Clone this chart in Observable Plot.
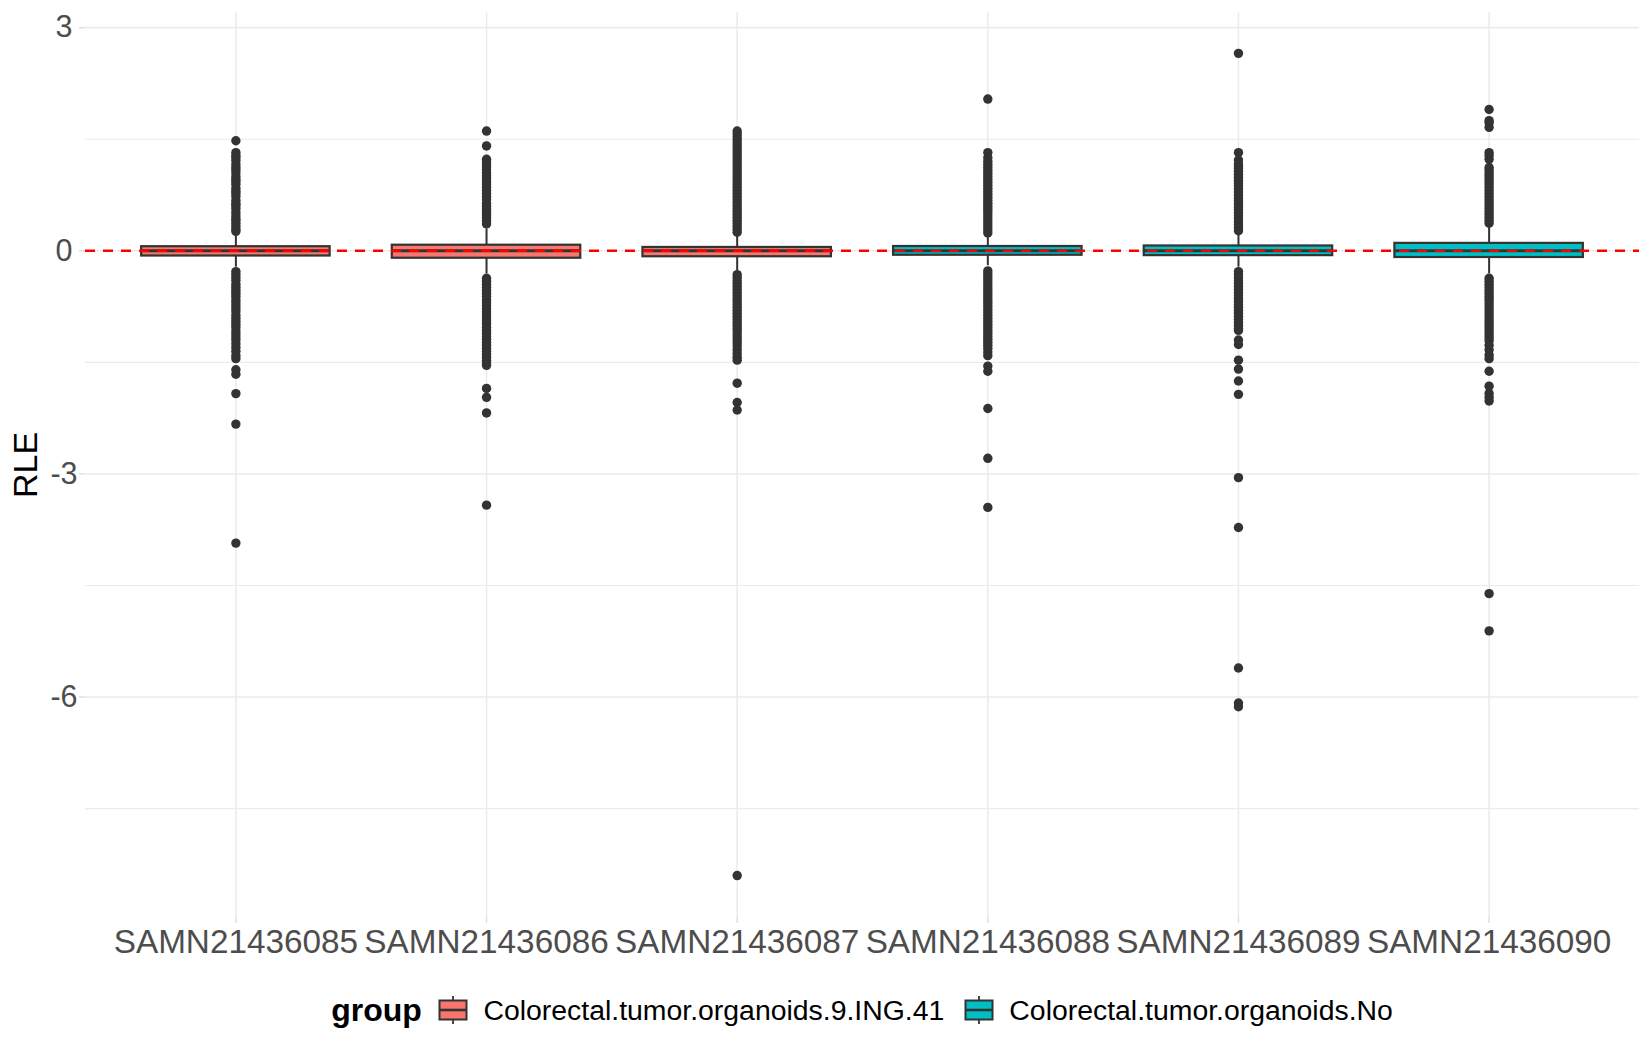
<!DOCTYPE html>
<html>
<head>
<meta charset="utf-8">
<script src="https://cdn.jsdelivr.net/npm/d3@7"></script>
<script src="https://cdn.jsdelivr.net/npm/@observablehq/plot@0.6"></script>
<style>
  html, body { margin: 0; padding: 0; background: #ffffff; }
  #chart { width: 1650px; }
  #legend {
    display: flex; align-items: center; justify-content: center;
    height: 40px; margin-top: 15px; padding-left: 74px;
    font-family: "Liberation Sans", Arial, Helvetica, sans-serif; color: #000;
  }
  #legend .title { font-weight: bold; font-size: 32px; margin-right: 16px; }
  #legend .lab { font-size: 28.4px; margin-left: 15.7px; margin-right: 19.4px; white-space: nowrap; }
  #legend svg { display: block; }
</style>
</head>
<body>
<div id="chart"></div>
<div id="legend"></div>
<script>
// ---------- data ----------
const samples = ["SAMN21436085", "SAMN21436086", "SAMN21436087", "SAMN21436088", "SAMN21436089", "SAMN21436090"];
const groupNames = ["Colorectal.tumor.organoids.9.ING.41", "Colorectal.tumor.organoids.No"];
const sampleGroup = [groupNames[0], groupNames[0], groupNames[0], groupNames[1], groupNames[1], groupNames[1]];
const groupColors = ["#F8766D", "#00BFC4"];

const q1 = [-0.07, -0.10, -0.08, -0.06, -0.065, -0.09];
const median = [0, 0, 0, 0, 0, 0];
const q3 = [0.055, 0.075, 0.045, 0.058, 0.065, 0.10];
const whiskerLow = [-0.22, -0.31, -0.27, -0.20, -0.22, -0.31];
const whiskerHigh = [0.20, 0.29, 0.22, 0.19, 0.22, 0.31];

const out085 = [0.26,0.29,0.33,0.37,0.41,0.44,0.48,0.52,0.57,0.61,0.64,0.68,0.73,0.77,0.8,0.84,0.89,0.93,0.96,1.0,1.05,1.09,1.12,1.16,1.21,1.25,1.28,1.32,1.48,
  -0.28,-0.32,-0.36,-0.4,-0.45,-0.49,-0.53,-0.57,-0.61,-0.66,-0.7,-0.74,-0.78,-0.82,-0.87,-0.91,-0.95,-0.99,-1.03,-1.08,-1.12,-1.16,-1.2,-1.25,-1.3,-1.35,-1.41,-1.45,-1.6,-1.66,-1.92,-2.33,-3.93];
const out086 = [0.36,0.4,0.44,0.48,0.52,0.56,0.6,0.64,0.69,0.73,0.77,0.81,0.85,0.89,0.93,0.97,1.01,1.05,1.09,1.13,1.17,1.2,1.23,1.41,1.61,
  -0.37,-0.41,-0.45,-0.49,-0.53,-0.57,-0.61,-0.66,-0.7,-0.74,-0.78,-0.82,-0.86,-0.9,-0.94,-0.98,-1.03,-1.07,-1.11,-1.15,-1.19,-1.23,-1.27,-1.31,-1.35,-1.39,-1.43,-1.47,-1.51,-1.54,-1.85,-1.97,-2.18,-3.42];
const out087 = [0.25,0.29,0.33,0.37,0.41,0.45,0.49,0.53,0.57,0.61,0.65,0.69,0.73,0.77,0.81,0.85,0.89,0.93,0.97,1.01,1.05,1.09,1.13,1.17,1.21,1.25,1.29,1.33,1.37,1.41,1.45,1.49,1.53,1.57,1.61,
  -0.32,-0.36,-0.4,-0.44,-0.48,-0.52,-0.56,-0.6,-0.64,-0.68,-0.72,-0.76,-0.8,-0.84,-0.88,-0.92,-0.96,-1.0,-1.04,-1.08,-1.12,-1.16,-1.2,-1.24,-1.28,-1.33,-1.38,-1.43,-1.47,-1.78,-2.04,-2.14,-8.4];
const out088 = [0.24,0.28,0.32,0.36,0.4,0.44,0.48,0.52,0.56,0.6,0.64,0.68,0.72,0.76,0.8,0.84,0.88,0.92,0.96,1.0,1.04,1.08,1.12,1.16,1.2,1.25,1.32,2.04,
  -0.27,-0.31,-0.35,-0.39,-0.43,-0.47,-0.51,-0.55,-0.59,-0.63,-0.67,-0.71,-0.75,-0.79,-0.83,-0.87,-0.91,-0.95,-0.99,-1.03,-1.07,-1.11,-1.15,-1.19,-1.23,-1.27,-1.31,-1.36,-1.41,-1.55,-1.62,-2.12,-2.79,-3.45];
const out089 = [0.27,0.31,0.35,0.39,0.43,0.47,0.51,0.55,0.59,0.63,0.67,0.71,0.75,0.79,0.83,0.87,0.91,0.95,0.99,1.03,1.07,1.11,1.14,1.17,1.22,1.32,2.655,
  -0.28,-0.32,-0.36,-0.4,-0.44,-0.48,-0.52,-0.56,-0.6,-0.64,-0.68,-0.72,-0.76,-0.8,-0.84,-0.88,-0.92,-0.96,-1.0,-1.04,-1.07,-1.2,-1.26,-1.47,-1.59,-1.75,-1.93,-3.05,-3.72,-5.61,-6.08,-6.13];
const out090 = [0.37,0.41,0.45,0.49,0.53,0.57,0.61,0.65,0.69,0.73,0.77,0.81,0.85,0.89,0.93,0.97,1.01,1.05,1.09,1.12,1.23,1.28,1.32,1.66,1.72,1.75,1.9,
  -0.37,-0.41,-0.45,-0.49,-0.53,-0.57,-0.61,-0.65,-0.69,-0.73,-0.77,-0.81,-0.85,-0.89,-0.93,-0.97,-1.01,-1.05,-1.09,-1.13,-1.17,-1.21,-1.27,-1.33,-1.4,-1.45,-1.62,-1.82,-1.92,-1.97,-2.02,-4.61,-5.11];
const outliers = [out085, out086, out087, out088, out089, out090];

const yTicksMajor = [3, 0, -3, -6];
const yTicksMinor = [1.5, -1.5, -4.5, -7.5];
const yLabel = "RLE";
const legendTitle = "group";

// ---------- tables ----------
const boxes = samples.map((s, i) => ({sample: s, group: sampleGroup[i], q1: q1[i], med: median[i], q3: q3[i], lo: whiskerLow[i], hi: whiskerHigh[i]}));
const points = samples.flatMap((s, i) => outliers[i].map(v => ({sample: s, value: v})));

const FONT = '"Liberation Sans", Arial, Helvetica, sans-serif';
const DARK = "#333333";
const GRID = "#ebebeb";

const chart = Plot.plot({
  width: 1650,
  height: 975,
  marginTop: 12,
  marginBottom: 58,
  marginLeft: 85,
  marginRight: 11,
  style: {fontFamily: FONT, background: "#ffffff", color: "#4d4d4d"},
  x: {type: "band", domain: samples, paddingInner: 0.248, paddingOuter: 0.224, round: false},
  y: {domain: [-8.964, 3.204]},
  color: {domain: groupNames, range: groupColors},
  marks: [
    Plot.ruleY(yTicksMinor, {stroke: GRID, strokeWidth: 1.1}),
    Plot.ruleY(yTicksMajor, {stroke: GRID, strokeWidth: 1.6}),
    Plot.ruleX(samples, {x: d => d, stroke: GRID, strokeWidth: 1.5}),
    Plot.axisY(yTicksMajor, {tickSize: 6, tickPadding: 15.5, textAnchor: "middle", tickFormat: d => String(d), stroke: "#dddddd", strokeWidth: 1.4, fill: "#4d4d4d", fontSize: 30.5, label: null}),
    Plot.axisX({tickSize: 6, tickPadding: 6, stroke: "#dddddd", strokeWidth: 1.4, fill: "#4d4d4d", fontSize: 33.3, label: null}),
    Plot.text([yLabel], {text: d => d, frameAnchor: "left", textAnchor: "middle", lineAnchor: "middle", dx: -59.7, rotate: -90, fontSize: 34, fill: "#000000"}),
    Plot.ruleX(boxes, {x: "sample", y1: "lo", y2: "hi", stroke: DARK, strokeWidth: 2}),
    Plot.barY(boxes, {x: "sample", y1: "q1", y2: "q3", fill: "group", stroke: DARK, strokeWidth: 2.2}),
    Plot.tickY(boxes, {x: "sample", y: "med", stroke: DARK, strokeWidth: 3}),
    Plot.dot(points, {x: "sample", y: "value", r: 4.7, fill: DARK, stroke: "none"}),
    Plot.ruleY([0], {stroke: "#ff0000", strokeWidth: 2.5, strokeDasharray: "10,8"})
  ]
});
document.getElementById("chart").appendChild(chart);

// ---------- legend ----------
const legend = document.getElementById("legend");
const t = document.createElement("span");
t.className = "title";
t.textContent = legendTitle;
legend.appendChild(t);
const ns = "http://www.w3.org/2000/svg";
groupNames.forEach((g, i) => {
  const svg = document.createElementNS(ns, "svg");
  svg.setAttribute("width", "30");
  svg.setAttribute("height", "30");
  const w = document.createElementNS(ns, "line");
  w.setAttribute("x1", "15"); w.setAttribute("x2", "15");
  w.setAttribute("y1", "1"); w.setAttribute("y2", "29");
  w.setAttribute("stroke", DARK); w.setAttribute("stroke-width", "1.8");
  svg.appendChild(w);
  const r = document.createElementNS(ns, "rect");
  r.setAttribute("x", "1.5"); r.setAttribute("y", "5.5");
  r.setAttribute("width", "27"); r.setAttribute("height", "19");
  r.setAttribute("fill", groupColors[i]);
  r.setAttribute("stroke", DARK); r.setAttribute("stroke-width", "2");
  svg.appendChild(r);
  const m = document.createElementNS(ns, "line");
  m.setAttribute("x1", "1.5"); m.setAttribute("x2", "28.5");
  m.setAttribute("y1", "15"); m.setAttribute("y2", "15");
  m.setAttribute("stroke", DARK); m.setAttribute("stroke-width", "2.6");
  svg.appendChild(m);
  legend.appendChild(svg);
  const lab = document.createElement("span");
  lab.className = "lab";
  lab.textContent = g;
  if (i === groupNames.length - 1) lab.style.marginRight = "0px";
  legend.appendChild(lab);
});
</script>
</body>
</html>
